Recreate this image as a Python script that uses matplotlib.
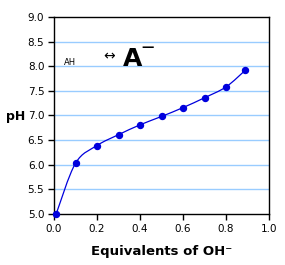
import numpy as np
import matplotlib.pyplot as plt
from matplotlib.path import Path
from matplotlib.patches import PathPatch

# titration of a weak acid
equiv = [0.01, 0.1, 0.2, 0.3, 0.4, 0.5, 0.6, 0.7, 0.8, 0.89]
ph = [5.0, 6.03, 6.39, 6.61, 6.81, 6.98, 7.16, 7.36, 7.58, 7.92]
x_ticks = [0.0, 0.2, 0.4, 0.6, 0.8, 1.0]
y_ticks = [5.0, 5.5, 6.0, 6.5, 7.0, 7.5, 8.0, 8.5, 9.0]

blue = '#0000dd'
grid_blue = '#99ccff'

fig = plt.figure(figsize=(2.85, 2.65), dpi=100)
ax = fig.add_axes([0.1895, 0.1925, 0.7545, 0.7435])

# smoothed line like a spreadsheet "smooth line" (catmull-rom as bezier segments)
pts = np.column_stack((equiv, ph))
verts = [pts[0]]
codes = [Path.MOVETO]
for i in range(len(pts) - 1):
    p0 = pts[i - 1] if i > 0 else pts[i]
    p1 = pts[i]
    p2 = pts[i + 1]
    p3 = pts[i + 2] if i + 2 < len(pts) else pts[i + 1]
    c1 = p1 + (p2 - p0) / 6.0
    c2 = p2 - (p3 - p1) / 6.0
    verts += [c1, c2, p2]
    codes += [Path.CURVE4] * 3
ax.add_patch(PathPatch(Path(verts, codes), fill=False, edgecolor=blue, lw=0.9, zorder=3))
ax.plot(equiv, ph, 'o', color=blue, ms=4.3, zorder=4, clip_on=False)

ax.set_xlim(0, 1.0)
ax.set_ylim(5.0, 9.0)
ax.set_xticks(x_ticks)
ax.set_yticks(y_ticks)
ax.set_xticklabels([f'{v:.1f}' for v in x_ticks])
ax.set_yticklabels([f'{v:.1f}' for v in y_ticks])
ax.tick_params(labelsize=7.5, length=4, width=1, direction='out', pad=3)
for y in y_ticks[1:-1]:
    ax.axhline(y, color=grid_blue, lw=1, zorder=1)
for s in ax.spines.values():
    s.set_linewidth(1)

ax.set_xlabel('Equivalents of OH\u207b', fontsize=9.5, fontweight='bold')
ax.xaxis.set_label_coords(0.5, -0.155)
ax.set_ylabel('pH', fontsize=9, fontweight='bold', rotation=0, va='center', ha='center')
ax.yaxis.set_label_coords(-0.18, 0.497)

ax.text(0.047, 8.03, 'AH', fontsize=6, ha='left', va='baseline')
ax.text(0.228, 8.12, '\u2194', fontsize=10, ha='left', va='baseline')
ax.text(0.318, 8.0, 'A', fontsize=18, fontweight='bold', ha='left', va='baseline')
ax.text(0.408, 8.37, '\u2014', fontsize=9, fontweight='bold', ha='left', va='center')

fig.savefig('out.png', dpi=100)
